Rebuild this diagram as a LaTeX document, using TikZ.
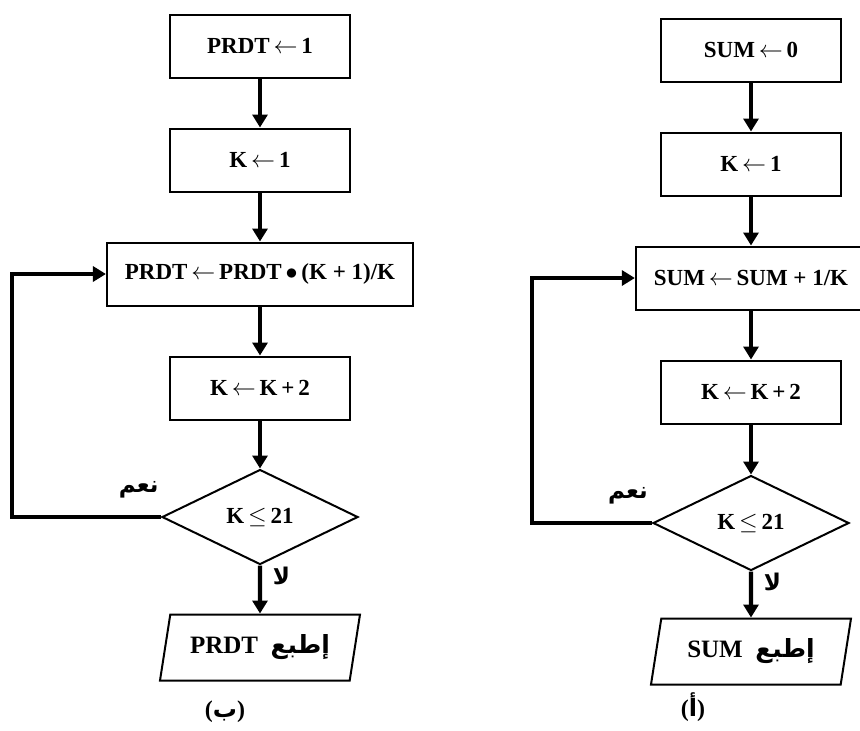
\documentclass[tikz,border=0pt]{standalone}
\usepackage{fontspec}
\setmainfont{Liberation Serif}
\newfontfamily\arabicfont[Script=Arabic]{DejaVu Sans}
\TeXXeTstate=1
\usetikzlibrary{arrows.meta,positioning,shapes.geometric}

\begin{document}
\begin{tikzpicture}[x=0.5pt,y=-0.5pt,node distance=24.5pt,>=Latex]
    \tikzset{
      stepbox/.style={draw,line width=1pt,minimum width=90pt,minimum height=31.5pt,
                      inner xsep=9pt,font=\fontsize{11.5}{14}\selectfont\bfseries},
      test/.style={diamond,draw,line width=1pt,minimum width=98pt,minimum height=47.5pt,
                   inner sep=1pt,font=\fontsize{11.5}{14}\selectfont\bfseries},
      outbox/.style={trapezium,trapezium left angle=75,trapezium right angle=105,
                     trapezium stretches body,draw,line width=1pt,minimum width=100pt,
                     minimum height=33pt,font=\fontsize{12.5}{15}\selectfont\bfseries},
      flow/.style={-{Triangle[length=6.5pt,width=7.5pt]},line width=2.2pt},
      tag/.style={font=\fontsize{11.5}{13}\selectfont\bfseries}
    }
    \useasboundingbox (0,0) rectangle (860,730);
    % left chart (b)
    \node[stepbox] (initP) at (260,46) {PRDT\,$\leftarrow$\,1};
    \node[stepbox,below=of initP] (kP) {K\,$\leftarrow$\,1};
    \node[stepbox,below=of kP] (updP) {PRDT\,$\leftarrow$\,PRDT\,$\bullet$\,(K + 1)/K};
    \node[stepbox,below=of updP] (incP) {K\,$\leftarrow$\,K\,+\,2};
    \node[test,below=24pt of incP] (testP) {K\,$\leq$\,21};
    \node[outbox,below=24pt of testP] (outP) {PRDT\ \ {\arabicfont\beginR إطبع\endR}};
    \coordinate (backP) at (12,0);
    \draw[flow] (initP) -- (kP);
    \draw[flow] (kP) -- (updP);
    \draw[flow] (updP) -- (incP);
    \draw[flow] (incP) -- (testP);
    \draw[flow] (testP) -- node[right=2pt,pos=0.22,tag] {\arabicfont\beginR لا\endR} (outP);
    \draw[flow] (testP.west) -- node[above=5pt,pos=0.15,tag] {\arabicfont\beginR نعم\endR}
      (testP.west -| backP) |- (updP.west);
    \node[tag,font=\fontsize{12}{14}\selectfont\bfseries] (capP) at (225,712)
      {({\arabicfont\beginR ب\endR})};
    % right chart (a)
    \node[stepbox] (initS) at (751,50) {SUM\,$\leftarrow$\,0};
    \node[stepbox,below=of initS] (kS) {K\,$\leftarrow$\,1};
    \node[stepbox,below=of kS] (updS) {SUM\,$\leftarrow$\,SUM + 1/K};
    \node[stepbox,below=of updS] (incS) {K\,$\leftarrow$\,K\,+\,2};
    \node[test,below=25pt of incS] (testS) {K\,$\leq$\,21};
    \node[outbox,below=23pt of testS] (outS) {SUM\ \ {\arabicfont\beginR إطبع\endR}};
    \coordinate (backS) at (532,0);
    \draw[flow] (initS) -- (kS);
    \draw[flow] (kS) -- (updS);
    \draw[flow] (updS) -- (incS);
    \draw[flow] (incS) -- (testS);
    \draw[flow] (testS) -- node[right=2pt,pos=0.22,tag] {\arabicfont\beginR لا\endR} (outS);
    \draw[flow] (testS.west) -- node[above=5pt,pos=0.2,tag] {\arabicfont\beginR نعم\endR}
      (testS.west -| backS) |- (updS.west);
    \node[tag,font=\fontsize{12}{14}\selectfont\bfseries] (capS) at (693,707)
      {({\arabicfont\beginR أ\endR})};
\end{tikzpicture}
\end{document}
